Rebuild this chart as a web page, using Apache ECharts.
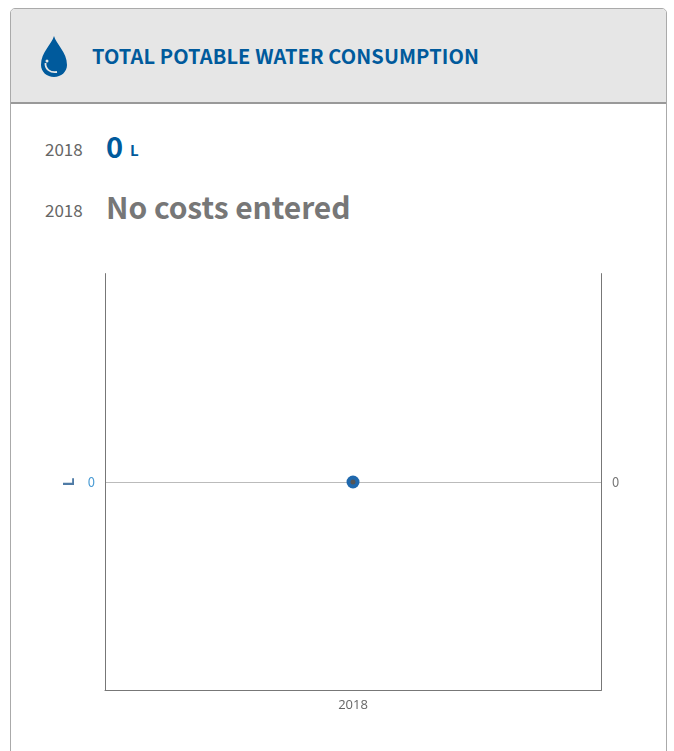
<!DOCTYPE html>
<html>
<head>
<meta charset="utf-8">
<title>Total potable water consumption</title>
<script src="https://cdn.jsdelivr.net/npm/echarts@6/dist/echarts.min.js"></script>
<style>
    html, body { margin: 0; padding: 0; background: #fff; overflow: hidden; }
    body { width: 674px; height: 751px; position: relative; font-family: "Noto Sans CJK SC", "Noto Sans", sans-serif; }
    .card { position: absolute; left: 10px; top: 8px; width: 655px; height: 800px; border: 1px solid #aaa; border-radius: 5px; box-sizing: content-box; }
    .head { position: absolute; left: 0; top: 0; right: 0; height: 93px; background: #e6e6e6; border-bottom: 2px solid #999; border-radius: 4px 4px 0 0; }
    .txt { position: absolute; white-space: nowrap; line-height: 1; }
    #main { position: absolute; left: 0; top: 0; width: 674px; height: 751px; }
</style>
</head>
<body>
<div class="card"><div class="head"></div></div>
<svg style="position:absolute;left:40px;top:36px" width="28" height="42" viewBox="0 0 28 42">
    <path d="M14 0 C16 8 27 16 27 29 C27 36 21 41 14 41 C7 41 1 36 1 29 C1 16 12 8 14 0 Z" fill="#005a9c"/>
    <path d="M5.5 27 C5 33 10 37 17 36" fill="none" stroke="#e6e6e6" stroke-width="1.8"/>
    <circle cx="7" cy="25" r="1.5" fill="#e6e6e6"/>
</svg>
<div class="txt" style="left:92px;top:46px;font-size:20px;letter-spacing:0.1px;font-weight:700;color:#005a9c">TOTAL POTABLE WATER CONSUMPTION</div>
<div class="txt" style="left:45px;top:140px;font-size:17px;color:#666">2018</div>
<div class="txt" style="left:106px;top:131px;font-size:29px;font-weight:700;color:#005a9c">0</div>
<div class="txt" style="left:130px;top:142px;font-size:15px;font-weight:700;color:#005a9c">L</div>
<div class="txt" style="left:45px;top:201px;font-size:17px;color:#666">2018</div>
<div class="txt" style="left:106px;top:191px;font-size:30px;letter-spacing:-0.05px;font-weight:700;color:#777">No costs entered</div>
<div id="main"></div>
<script>
var years = ['2018'];
var consumption = [0];
var costs = [0];
var unit = 'L';

var myChart = echarts.init(document.getElementById('main'), null, { renderer: 'canvas' });
var zeroOnly = function (v) { return v === 0 ? '0' : ''; };
var option = {
    animation: false,
    textStyle: { fontFamily: '"Noto Sans CJK SC", "Noto Sans", sans-serif' },
    grid: { left: 105, right: 73, top: 273.6, bottom: 60.6 },
    xAxis: {
        type: 'category',
        data: years,
        axisLine: { onZero: false, lineStyle: { color: '#777', width: 1 } },
        axisTick: { show: false },
        axisLabel: { color: '#666', fontSize: 13, margin: 8, fontFamily: '"Open Sans", sans-serif' }
    },
    yAxis: [
        {
            type: 'value',
            min: -1,
            max: 1,
            interval: 1,
            name: unit,
            nameLocation: 'middle',
            nameGap: 29,
            nameRotate: 90,
            nameTextStyle: { color: '#4f7ba6', fontSize: 15, fontWeight: 'bold' },
            axisLine: { show: true, lineStyle: { color: '#777', width: 1 } },
            axisTick: { show: false },
            axisLabel: { color: '#4a9bd4', fontSize: 13, margin: 10, formatter: zeroOnly },
            splitLine: { show: true, showMinLine: false, showMaxLine: false, lineStyle: { color: '#bbb', width: 1 } }
        },
        {
            type: 'value',
            min: -1,
            max: 1,
            interval: 1,
            position: 'right',
            axisLine: { show: true, lineStyle: { color: '#777', width: 1 } },
            axisTick: { show: false },
            axisLabel: { color: '#777', fontSize: 13, margin: 11, formatter: zeroOnly },
            splitLine: { show: false }
        }
    ],
    series: [
        {
            name: 'Consumption',
            type: 'line',
            yAxisIndex: 0,
            data: consumption,
            symbol: 'circle',
            symbolSize: 13,
            itemStyle: { color: '#1f68ad' },
            z: 2
        },
        {
            name: 'Costs',
            type: 'line',
            yAxisIndex: 1,
            data: costs,
            symbol: 'circle',
            symbolSize: 5,
            itemStyle: { color: '#555' },
            z: 3
        }
    ]
};
myChart.setOption(option, true);
</script>
</body>
</html>
